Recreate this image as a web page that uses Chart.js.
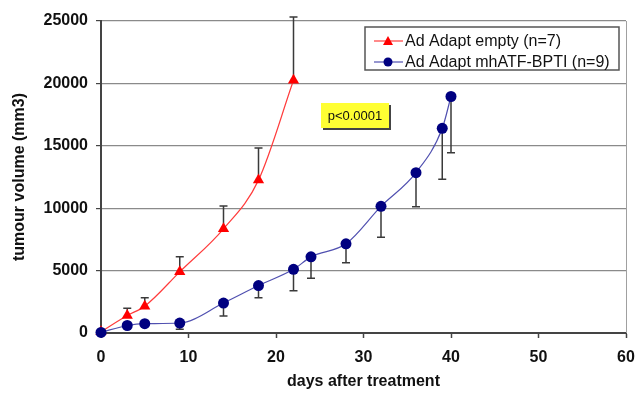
<!DOCTYPE html>
<html>
<head>
<meta charset="utf-8">
<script src="https://cdn.jsdelivr.net/npm/chart.js@4/dist/chart.umd.min.js"></script>
<style>
  html, body { margin: 0; padding: 0; background: #fff; }
  #wrap { position: relative; width: 637px; height: 393px; }
</style>
</head>
<body>
<div id="wrap"><canvas id="tumour-chart" width="637" height="393"></canvas></div>
<script>
// days after treatment
const daysEmpty = [0, 3, 5, 9, 14, 18, 22];
const daysBpti = [0, 3, 5, 9, 14, 18, 22, 24, 28, 32, 36, 39, 40];

// mean tumour volume (mm3) and SD
const volEmpty = [100, 1400, 2150, 4900, 8350, 12250, 20250];
const sdEmpty = [0, 580, 680, 1210, 1830, 2570, 5070];
const volBpti = [50, 600, 750, 800, 2400, 3800, 5100, 6100, 7150, 10150, 12850, 16400, 18950];
const sdBpti = [0, 0, 0, 500, 1040, 970, 1710, 1720, 1520, 2480, 2730, 4090, 4500];

const xTicks = [0, 10, 20, 30, 40, 50, 60];
const yTicks = [0, 5000, 10000, 15000, 20000, 25000];

const seriesLabels = ['Ad Adapt empty (n=7)', 'Ad Adapt mhATF-BPTI (n=9)'];
const pValueText = 'p<0.0001';

const FONT = "'Liberation Sans', Arial, sans-serif";

const toPoints = (xs, ys) => xs.map((x, i) => ({x: x, y: ys[i]}));

// SD bars: empty group goes up, treated group goes down
const errorBars = {
  id: 'errorBars',
  beforeDatasetsDraw(chart) {
    const {ctx, scales: {x, y}} = chart;
    const groups = [
      {days: daysEmpty, vol: volEmpty, sd: sdEmpty, dir: 1},
      {days: daysBpti, vol: volBpti, sd: sdBpti, dir: -1}
    ];
    ctx.save();
    ctx.strokeStyle = '#3a3a3a';
    ctx.lineWidth = 1.5;
    groups.forEach(g => {
      g.days.forEach((d, i) => {
        if (!g.sd[i]) return;
        const px = x.getPixelForValue(d);
        const y0 = y.getPixelForValue(g.vol[i]);
        const y1 = y.getPixelForValue(g.vol[i] + g.dir * g.sd[i]);
        ctx.beginPath();
        ctx.moveTo(px, y0);
        ctx.lineTo(px, y1);
        ctx.moveTo(px - 4, y1);
        ctx.lineTo(px + 4, y1);
        ctx.stroke();
      });
    });
    // light frame on the right side of the plot
    const a = chart.chartArea;
    ctx.strokeStyle = '#a0a0a0';
    ctx.lineWidth = 1;
    ctx.beginPath();
    ctx.moveTo(a.right + 0.5, a.top);
    ctx.lineTo(a.right + 0.5, a.bottom);
    ctx.stroke();
    ctx.restore();
  }
};

// legend box and p-value label
const annotations = {
  id: 'annotations',
  afterDraw(chart) {
    const ctx = chart.ctx;
    const ds = chart.data.datasets;
    ctx.save();

    // legend
    const lx = 365, ly = 27, lw = 254, lh = 43;
    ctx.fillStyle = '#fff';
    ctx.fillRect(lx, ly, lw, lh);
    ctx.strokeStyle = '#555';
    ctx.lineWidth = 1.5;
    ctx.strokeRect(lx, ly, lw, lh);

    ctx.font = '16px ' + FONT;
    ctx.textBaseline = 'middle';
    ctx.textAlign = 'left';
    [41, 62].forEach((ry, i) => {
      const d = ds[i];
      ctx.strokeStyle = d.borderColor;
      ctx.lineWidth = 1.2;
      ctx.beginPath();
      ctx.moveTo(374, ry);
      ctx.lineTo(403, ry);
      ctx.stroke();
      ctx.fillStyle = d.pointBackgroundColor;
      ctx.beginPath();
      if (d.pointStyle === 'triangle') {
        ctx.moveTo(388, ry - 5);
        ctx.lineTo(393, ry + 4);
        ctx.lineTo(383, ry + 4);
        ctx.closePath();
      } else {
        ctx.arc(388, ry, 4.5, 0, Math.PI * 2);
      }
      ctx.fill();
      ctx.fillStyle = '#111';
      ctx.fillText(seriesLabels[i], 405, ry + 1);
    });

    // p value box with drop shadow
    const bx = 321, by = 103, bw = 68, bh = 25;
    ctx.fillStyle = '#444';
    ctx.fillRect(bx + 2, by + 2, bw, bh);
    ctx.fillStyle = '#ffff33';
    ctx.fillRect(bx, by, bw, bh);
    ctx.fillStyle = '#111';
    ctx.font = '13px ' + FONT;
    ctx.textAlign = 'center';
    ctx.fillText(pValueText, bx + bw / 2, by + bh / 2 + 1);
    ctx.restore();
  }
};

const config = {
  type: 'scatter',
  data: {
    datasets: [
      {
        label: seriesLabels[0],
        data: toPoints(daysEmpty, volEmpty),
        showLine: true,
        cubicInterpolationMode: 'monotone',
        borderColor: '#ff3b3b',
        borderWidth: 1.2,
        pointStyle: 'triangle',
        pointRadius: 6.5,
        pointBackgroundColor: '#ff0000',
        pointBorderColor: '#ff0000',
        pointBorderWidth: 0,
        clip: false,
        order: 1
      },
      {
        label: seriesLabels[1],
        data: toPoints(daysBpti, volBpti),
        showLine: true,
        cubicInterpolationMode: 'monotone',
        borderColor: '#5050b0',
        borderWidth: 1.2,
        pointStyle: 'circle',
        pointRadius: 5.5,
        pointBackgroundColor: '#000080',
        pointBorderColor: '#000080',
        pointBorderWidth: 0,
        clip: false,
        order: 0
      }
    ]
  },
  options: {
    responsive: false,
    animation: false,
    layout: { padding: { left: 0, right: 11, top: 21, bottom: 0 } },
    plugins: {
      legend: { display: false },
      tooltip: { enabled: false }
    },
    scales: {
      x: {
        type: 'linear',
        min: 0,
        max: 60,
        afterBuildTicks: s => { s.ticks = xTicks.map(v => ({value: v})); },
        afterFit: s => {
          s.height = 60;
          s.paddingLeft = 0;
          s.paddingRight = 0;
        },
        grid: { drawOnChartArea: false, drawTicks: true, tickLength: 5, tickColor: '#444', tickWidth: 1.5 },
        border: { color: '#444', width: 2 },
        ticks: { color: '#111', padding: 10, font: { family: FONT, size: 16, weight: 'bold' } },
        title: {
          display: true,
          text: 'days after treatment',
          color: '#111',
          font: { family: FONT, size: 16, weight: 'bold' },
          padding: { top: 0, bottom: 2 }
        }
      },
      y: {
        min: 0,
        max: 25000,
        afterBuildTicks: s => { s.ticks = yTicks.map(v => ({value: v})); },
        afterFit: s => {
          s.width = 101;
          s.paddingTop = 0;
          s.paddingBottom = 0;
        },
        grid: { color: '#8a8a8a', lineWidth: 1.2, tickLength: 5, tickColor: '#444' },
        border: { color: '#444', width: 2 },
        ticks: {
          color: '#111',
          padding: 8,
          font: { family: FONT, size: 16, weight: 'bold' },
          callback: v => String(v)
        },
        title: {
          display: true,
          text: 'tumour volume (mm3)',
          color: '#111',
          font: { family: FONT, size: 16, weight: 'bold' },
          padding: { top: 10, bottom: 0 }
        }
      }
    }
  },
  plugins: [errorBars, annotations]
};

window.tumourChart = new Chart(document.getElementById('tumour-chart').getContext('2d'), config);
</script>
</body>
</html>
